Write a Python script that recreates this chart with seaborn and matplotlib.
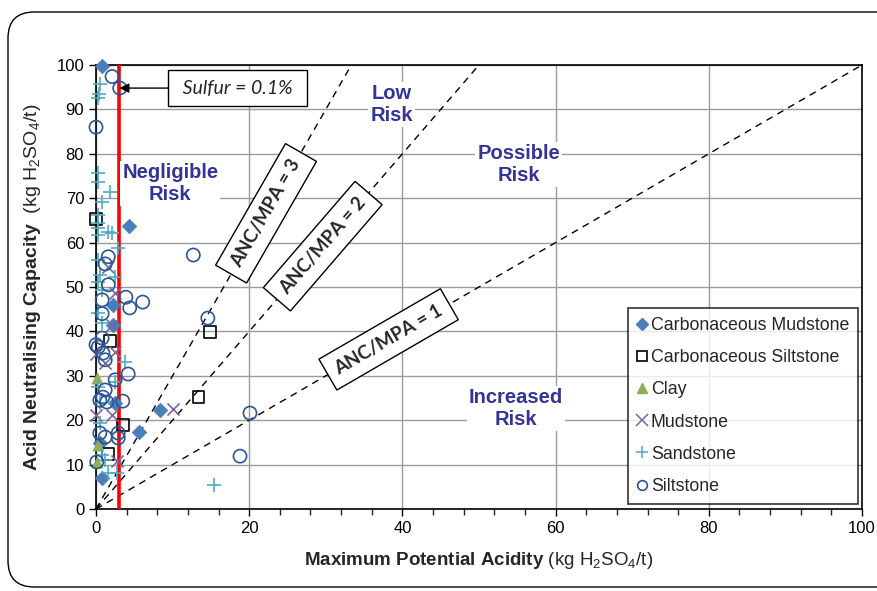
import numpy as np
import pandas as pd
import matplotlib
matplotlib.use("Agg")
import matplotlib.pyplot as plt
import seaborn as sns
from matplotlib.lines import Line2D
from matplotlib.patches import FancyBboxPatch

sns.set_style("white")
plt.rcParams['font.family'] = ['Liberation Sans', 'DejaVu Sans']
plt.rcParams['mathtext.fontset'] = 'custom'
plt.rcParams['mathtext.rm'] = 'Liberation Sans'
plt.rcParams['mathtext.bf'] = 'Liberation Sans:bold'
plt.rcParams['mathtext.it'] = 'Liberation Sans:italic'
plt.rcParams['mathtext.default'] = 'regular'

# ---------------- data ----------------
carb_mud_x = [0.8, 4.3, 8.3, 5.6, 0.8, 2.2, 2.2, 2.5, 0.5]
carb_mud_y = [99.8, 63.7, 22.4, 17.3, 7.0, 46.0, 41.4, 23.9, 14.9]

carb_silt_x = [14.9, 13.4, 3.5, 1.6, 1.8, 0.0]
carb_silt_y = [39.9, 25.2, 18.9, 12.4, 37.8, 65.3]

clay_x = [0.1, 0.3, 0.1]
clay_y = [29.5, 14.4, 10.6]

mud_x = [10.1, 2.5, 1.6, 2.5, 0.0, 1.2, 0.0, 2.1, 2.7, 2.1]
mud_y = [22.5, 48.6, 54.5, 35.4, 35.0, 32.9, 21.2, 21.2, 10.8, 41.5]

sand_x = [15.4, 0.5, 0.2, 0.4, 0.2, 0.2, 1.8, 0.8, 0.2, 0.3, 1.6, 0.3, 2.9,
          0.3, 0.5, 2.5, 0.3, 0.8, 0.3, 0.8, 3.8, 0.3, 2.5, 0.5, 0.5, 1.2,
          1.6, 2.7, 0.8, 0.3, 2.1]
sand_y = [5.4, 95.7, 92.6, 93.4, 75.7, 73.6, 71.4, 69.1, 66.2, 64.4, 62.4, 61.7, 58.8,
          56.1, 52.7, 52.3, 51.1, 49.3, 44.1, 41.9, 33.1, 27.5, 28.6, 23.9, 19.4, 11.0,
          8.1, 8.1, 12.2, 63.3, 62.2]

silt_x = [2.1, 3.1, 0.0, 12.7, 14.6, 3.9, 4.4, 6.1, 4.2, 3.5, 20.1, 18.8, 2.9,
          2.9, 0.1, 1.6, 1.2, 1.6, 0.8, 0.8, 0.8, 0.3, 0.9, 1.2, 2.5, 1.2, 0.9,
          1.4, 0.5, 0.5, 1.2, 0.0]
silt_y = [97.4, 94.8, 86.0, 57.2, 43.0, 47.7, 45.3, 46.6, 30.4, 24.3, 21.6, 11.9, 17.1,
          16.0, 10.6, 56.8, 55.2, 50.5, 47.1, 44.0, 38.5, 36.5, 35.1, 33.6, 29.1, 26.8, 25.2,
          24.1, 24.5, 17.1, 16.2, 37.0]

categories = ["Carbonaceous Mudstone", "Carbonaceous Siltstone", "Clay",
              "Mudstone", "Sandstone", "Siltstone"]
xs = [carb_mud_x, carb_silt_x, clay_x, mud_x, sand_x, silt_x]
ys = [carb_mud_y, carb_silt_y, clay_y, mud_y, sand_y, silt_y]

ratios = [3, 2, 1]
ratio_labels = ["ANC/MPA = 3", "ANC/MPA = 2", "ANC/MPA = 1"]
ratio_label_x = [22.2, 29.6, 38.2]

sulfur_pct = 0.1
mpa_sulfur = 30.6 * sulfur_pct

risk_texts = ["Negligible\nRisk", "Low\nRisk", "Possible\nRisk", "Increased\nRisk"]
risk_x = [9.7, 38.6, 55.2, 54.8]
risk_y = [73.4, 91.0, 77.5, 22.7]

df = pd.DataFrame({
    "MPA": np.concatenate([np.array(v, float) for v in xs]),
    "ANC": np.concatenate([np.array(v, float) for v in ys]),
    "Lithology": np.concatenate([[c] * len(v) for c, v in zip(categories, xs)]),
})

# ---------------- styles ----------------
styles = {
    "Carbonaceous Mudstone": dict(marker="D", color="#4A7EBB", filled=True, s=55),
    "Carbonaceous Siltstone": dict(marker="s", color="black", filled=False, s=70),
    "Clay": dict(marker="^", color="#8FAF55", filled=True, s=65),
    "Mudstone": dict(marker="x", color="#7E63A0", filled=None, s=75),
    "Sandstone": dict(marker="+", color="#4BACC6", filled=None, s=110),
    "Siltstone": dict(marker="o", color="#2B5593", filled=False, s=90),
}

W, H = 877, 591
fig = plt.figure(figsize=(W / 100, H / 100), dpi=100)
ax_l, ax_r, ax_t, ax_b = 96, 862, 65, 509
ax = fig.add_axes([ax_l / W, 1 - ax_b / H, (ax_r - ax_l) / W, (ax_b - ax_t) / H])

# outer rounded frame
frame = FancyBboxPatch((8 / W, 4 / H), 1.2, (H - 16) / H,
                       boxstyle="round,pad=0,rounding_size=0.03",
                       transform=fig.transFigure, fill=False, ec="black", lw=1.0,
                       zorder=0, mutation_aspect=W / H)
fig.patches.append(frame)

ax.set_xlim(0, 100)
ax.set_ylim(0, 100)
ax.set_xticks(np.arange(0, 101, 20))
ax.set_xticks(np.arange(0, 101, 4), minor=True)
ax.set_yticks(np.arange(0, 101, 10))
ax.grid(True, axis="y", which="major", color="#9A9A9A", lw=1)
ax.grid(True, axis="x", which="major", color="#9A9A9A", lw=1)
ax.set_axisbelow(True)
for sp in ax.spines.values():
    sp.set_visible(True)
    sp.set_color("black")
    sp.set_linewidth(1.2)
ax.tick_params(axis="both", which="major", direction="out", length=5, width=1,
               labelsize=12, colors="black", bottom=True, left=True)
ax.tick_params(axis="x", which="minor", direction="out", length=4, width=1, bottom=True)

# ratio lines
angle_scale = (ax_b - ax_t) / (ax_r - ax_l)
for r, lab, lx in zip(ratios, ratio_labels, ratio_label_x):
    ax.axline((0, 0), slope=r, color="black", lw=1, ls=(0, (5, 4)), zorder=2)
    ang = np.degrees(np.arctan(r * angle_scale))
    ax.text(lx, r * lx, lab, rotation=ang, rotation_mode="anchor", ha="center", va="center",
            family=["Lato", "DejaVu Sans"], fontweight="bold", fontsize=13.5, zorder=5,
            bbox=dict(boxstyle="square,pad=0.5", fc="white", ec="black", lw=1))

# sulfur line
ax.axvline(mpa_sulfur, color="#FF0000", lw=2.6, zorder=3)

# scatter
for cat in categories:
    st = styles[cat]
    sub = df[df["Lithology"] == cat]
    kw = dict(data=sub, x="MPA", y="ANC", ax=ax, marker=st["marker"], s=st["s"],
              zorder=4, legend=False, clip_on=False)
    if st["filled"] is True:
        sns.scatterplot(color=st["color"], edgecolor=st["color"], linewidth=0.5, **kw)
    elif st["filled"] is False:
        sns.scatterplot(facecolor="none", edgecolor=st["color"], linewidth=1.2, **kw)
    else:
        sns.scatterplot(color=st["color"], linewidth=1.2, **kw)

# sulfur annotation
ax.annotate(" Sulfur = 0.1% ", xy=(mpa_sulfur, 94.8), xytext=(18.5, 94.8),
            ha="center", va="center", fontsize=14, fontstyle="italic",
            family=["Lato", "DejaVu Sans"], zorder=6,
            bbox=dict(boxstyle="square,pad=0.5", fc="white", ec="black", lw=1),
            arrowprops=dict(arrowstyle="-|>", color="black", lw=1, shrinkA=0, shrinkB=0,
                            mutation_scale=14))

# risk labels
for t, x, y in zip(risk_texts, risk_x, risk_y):
    ax.text(x, y, t, ha="center", va="center", color="#333399", fontsize=14.5,
            fontweight="bold", linespacing=1.2, zorder=3,
            bbox=dict(boxstyle="square,pad=0.1", fc="white", ec="none"))

ax.set_xlabel(r"$\bf{Maximum\ Potential\ Acidity}$ (kg H$_2$SO$_4$/t)", fontsize=13.5,
              labelpad=10)
ax.set_ylabel(r"$\bf{Acid\ Neutralising\ Capacity}$  (kg H$_2$SO$_4$/t)", fontsize=14,
              labelpad=10)

# legend
handles = []
for cat in categories:
    st = styles[cat]
    if st["filled"] is True:
        h = Line2D([], [], ls="none", marker=st["marker"], mfc=st["color"], mec=st["color"],
                   ms=6 if st["marker"] == "D" else 7)
    elif st["filled"] is False:
        h = Line2D([], [], ls="none", marker=st["marker"], mfc="none", mec=st["color"],
                   ms=7, mew=1.2)
    else:
        h = Line2D([], [], ls="none", marker=st["marker"], color=st["color"], ms=9, mew=1.1)
    handles.append(h)
leg = ax.legend(handles, categories, loc="lower right", bbox_to_anchor=(0.995, 0.012),
                frameon=True, fancybox=False, edgecolor="black", fontsize=12.8,
                labelspacing=0.85, handlelength=0.6, handletextpad=0.2,
                borderpad=0.5, borderaxespad=0)
leg.get_frame().set_linewidth(1.2)
leg.set_zorder(7)

fig.savefig("out.png", dpi=100)
